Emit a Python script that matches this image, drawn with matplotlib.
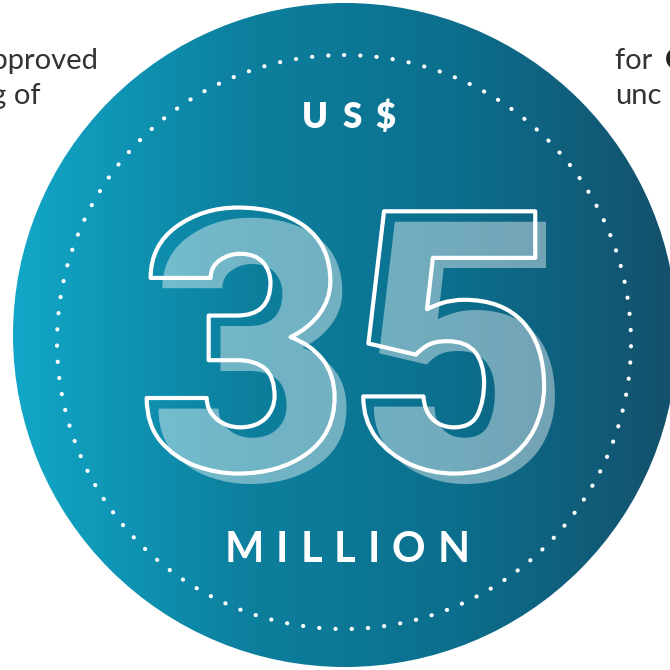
import matplotlib
matplotlib.use("Agg")
from matplotlib import pyplot as plt
from matplotlib.patches import Circle
from matplotlib.colors import LinearSegmentedColormap
import matplotlib.patheffects as pe
import numpy as np

# text content of the badge
amount = "35"
currency = "US$"
unit = "MILLION"
left_lines = ["approved", "ing of"]
right_lines = ["for ", "unc"]
right_bold = "C"

# badge colours, left to right
grad_colors = ["#12a7c8", "#0d819f", "#0b6f8d", "#14506b"]

W = 670
fig = plt.figure(figsize=(6.7, 6.7), dpi=100)
ax = fig.add_axes([0, 0, 1, 1])
ax.set_xlim(0, W)
ax.set_ylim(W, 0)
ax.axis("off")

# big gradient disc
cx, cy, R = 345, 335, 332
disc = Circle((cx, cy), R, transform=ax.transData, facecolor="none", edgecolor="none")
ax.add_patch(disc)
cmap = LinearSegmentedColormap.from_list("badge", grad_colors)
grad = np.linspace(0, 1, 256).reshape(1, -1)
im = ax.imshow(grad, cmap=cmap, extent=[cx - R, cx + R, cy + R, cy - R],
               aspect="auto", interpolation="bilinear")
im.set_clip_path(disc)

# dotted ring
ring = Circle((344, 342), 287, fill=False, edgecolor="white", linewidth=3.0,
              linestyle=(0, (0.05, 3.85)), capstyle="round")
ax.add_patch(ring)

def spaced(s, xc, y, gap, **kw):
    r = fig.canvas.get_renderer()
    objs = [ax.text(0, y, ch, ha="left", va="baseline", **kw) for ch in s]
    ws = [t.get_window_extent(r).width for t in objs]
    total = sum(ws) + gap * (len(s) - 1)
    x = xc - total / 2
    for t, w in zip(objs, ws):
        t.set_x(x)
        x += w + gap

spaced(currency, 349, 128, 14, color="white", fontsize=25,
       family="Lato", weight="heavy")
spaced(unit, 347, 562, 12, color="white", fontsize=30,
       family="Lato", weight="bold")

# big number: offset translucent fill + white outline
big = dict(fontsize=262, family="Roboto", weight="black", ha="center", va="baseline")
ax.text(360, 480, amount, color=(1, 1, 1, 0.42), **big)
ax.text(349, 470, amount, color="none",
        path_effects=[pe.Stroke(linewidth=3.0, foreground="white")], **big)

# cut-off body text on the sides
side = dict(fontsize=21, family="Lato", weight="normal", color="#333333")
ax.text(98, 69, left_lines[0], ha="right", va="baseline", **side)
ax.text(40, 104, left_lines[1], ha="right", va="baseline", **side)
ax.text(615, 69, right_lines[0], ha="left", va="baseline", **side)
ax.text(665, 69, right_bold, ha="left", va="baseline", fontsize=21,
        family="Lato", weight="bold", color="#222222")
ax.text(615, 104, right_lines[1], ha="left", va="baseline", **side)

fig.savefig("out.png", dpi=100)
